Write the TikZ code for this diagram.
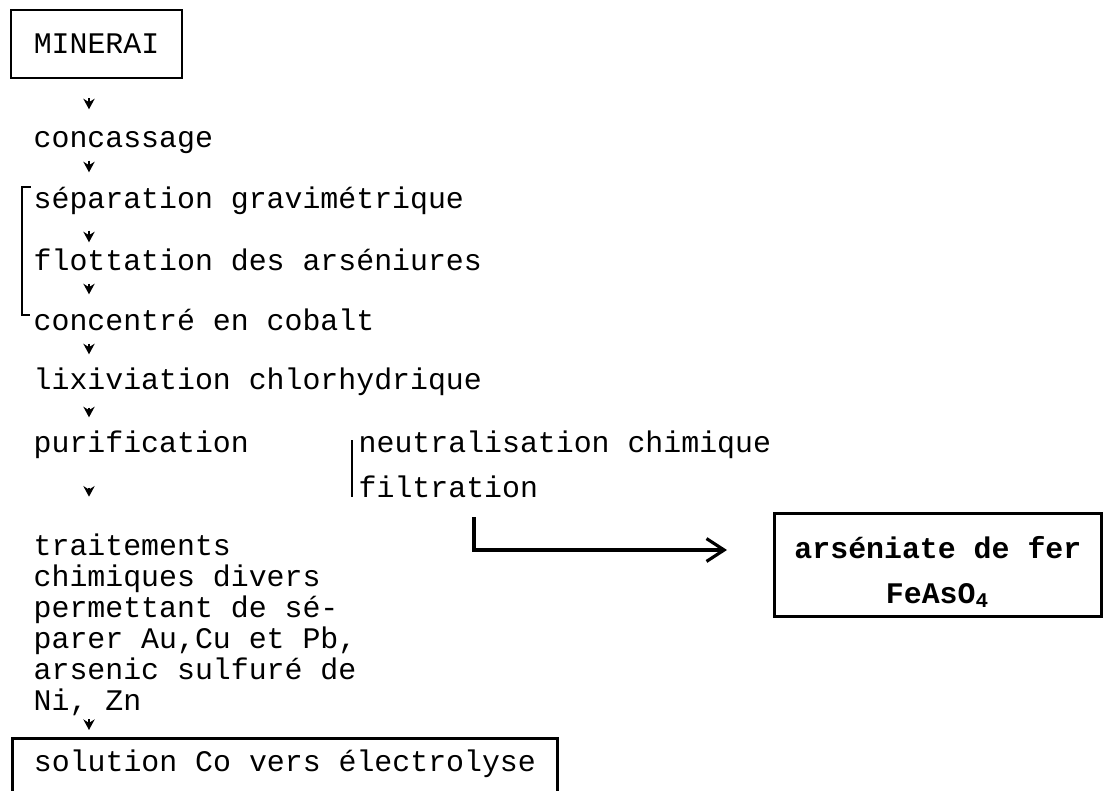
\documentclass[tikz,border=0pt]{standalone}
\usepackage{fontspec}
\setmonofont{Liberation Mono}
\usetikzlibrary{arrows.meta}

\begin{document}
\begin{tikzpicture}[
  every node/.style={font=\ttfamily\fontsize{8.5}{8.82}\selectfont, inner sep=0pt},
  etape/.style={anchor=base west, text height=0.24cm, text depth=0.075cm},
  boite/.style={draw, line width=0.8pt},
  fleche/.style={-{Stealth[length=3pt,width=3.2pt]}, line width=0.6pt},
  barre/.style={line width=0.8pt},
  sortie/.style={-{Straight Barb[length=5pt,width=6.5pt]}, line width=0.9pt}
]
  \useasboundingbox (0,0) rectangle (11.08,-7.91);
  \clip (0,0) rectangle (11.08,-7.91);
  % ore box
  \node[boite, minimum width=1.71cm, minimum height=0.68cm, text height=0.2cm, text depth=0pt] (mine) at (0.965,-0.44) {MINERAI};
  % main treatment line
  \node[etape] (conc) at (0.33,-1.47) {concassage};
  \node[etape] (sep) at (0.33,-2.08) {séparation gravimétrique};
  \node[etape] (flot) at (0.33,-2.70) {flottation des arséniures};
  \node[etape] (cobalt) at (0.33,-3.30) {concentré en cobalt};
  \node[etape] (lixi) at (0.33,-3.89) {lixiviation chlorhydrique};
  \node[etape] (purif) at (0.33,-4.52) {purification};
  % base of a multi-line node sits on its last line
  \node[anchor=base west, align=left] (traitem) at (0.33,-7.10) {traitements\\chimiques divers\\permettant de sé-\\parer Au,Cu et Pb,\\arsenic sulfuré de\\Ni, Zn};
  % side branch
  \node[etape] (neutr) at (3.58,-4.52) {neutralisation chimique};
  \node[etape] (filtr) at (3.58,-4.97) {filtration};
  \node[boite, font=\ttfamily\bfseries\fontsize{8.5}{12.8}\selectfont, align=center, minimum width=3.27cm, text height=0.9cm, text depth=0.13cm, anchor=south west] (fer) at (7.73,-6.18) {arséniate de fer\\FeAsO\textsubscript{4}};
  % final box, runs off the bottom edge
  \node[boite, anchor=north west, minimum width=5.45cm, inner ysep=0.09cm, text height=0.24cm, text depth=0.5cm] (fin) at (0.11,-7.37) {solution Co vers électrolyse};
  % small arrows down the column
  \coordinate (axe) at (0.89,0);
  \draw[fleche, shorten <=0.19cm, shorten >=0.13cm] (mine.south -| axe) -- (conc.north -| axe);
  \draw[fleche, shorten <=0.055cm, shorten >=0.11cm] (conc.south -| axe) -- (sep.north -| axe);
  \draw[fleche, shorten <=0.145cm, shorten >=0.03cm] (sep.south -| axe) -- (flot.north -| axe);
  \draw[fleche, shorten <=0.055cm, shorten >=0.11cm] (flot.south -| axe) -- (cobalt.north -| axe);
  \draw[fleche, shorten <=0.055cm, shorten >=0.10cm] (cobalt.south -| axe) -- (lixi.north -| axe);
  \draw[fleche, shorten <=0.105cm, shorten >=0.10cm] (lixi.south -| axe) -- (purif.north -| axe);
  \draw[fleche, shorten <=0.275cm, shorten >=0.36cm] (purif.south -| axe) -- (traitem.north -| axe);
  \draw[fleche, shorten <=0.03cm, shorten >=0.07cm] (traitem.south -| axe) -- (fin.north -| axe);
  % bracket round the concentration steps
  \draw[barre] ([shift={(-0.02,0.21)}]sep.base west) -- ([shift={(-0.11,0.21)}]sep.base west)
    -- ([shift={(-0.11,0.15)}]cobalt.base west) -- ([shift={(-0.03,0.15)}]cobalt.base west);
  % bar in front of the side steps
  \draw[barre] ([shift={(-0.06,0.12)}]neutr.base west) -- ([xshift=-0.06cm]filtr.base west);
  % arsenic leaves the process
  \coordinate (depart) at ([shift={(1.16,-0.2)}]filtr.base west);
  \coordinate (coude) at ([yshift=-0.33cm]depart);
  \draw[sortie, shorten >=0.46cm] (depart) |- (fer.west |- coude);
\end{tikzpicture}
\end{document}
